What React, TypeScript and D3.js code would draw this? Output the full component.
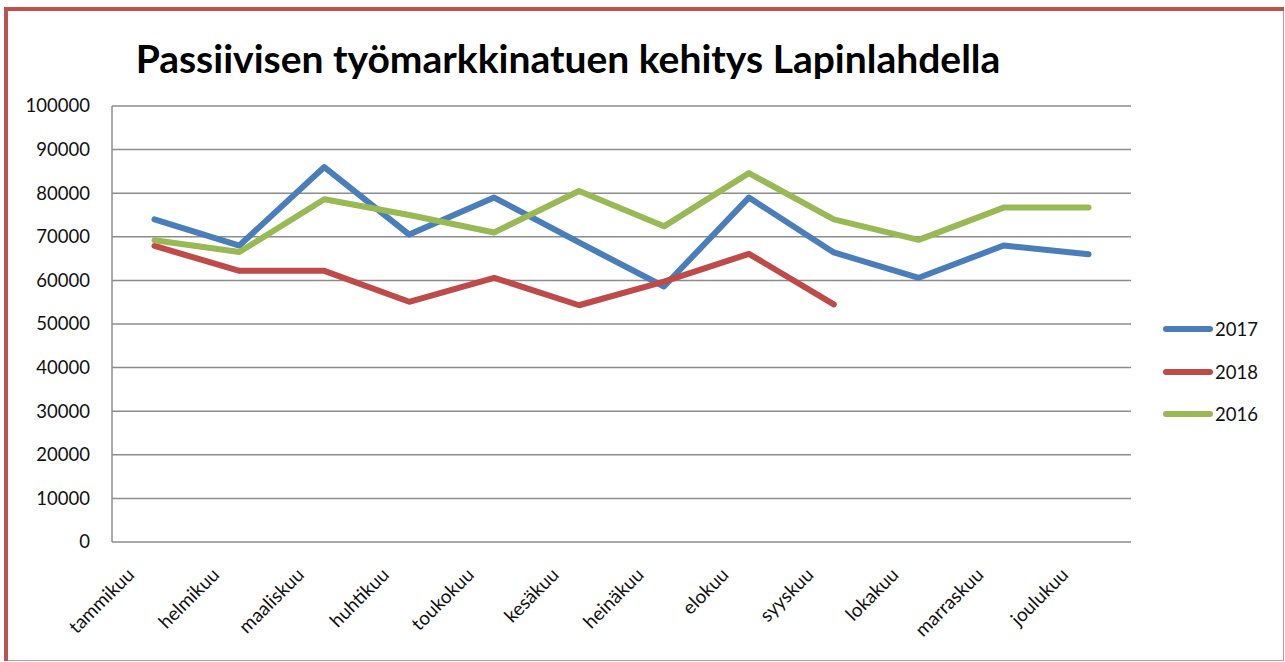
import React, { useEffect, useRef } from "react";
import * as d3 from "d3";

const months = ["tammikuu","helmikuu","maaliskuu","huhtikuu","toukokuu","kesäkuu","heinäkuu","elokuu","syyskuu","lokakuu","marraskuu","joulukuu"];
const values2017 = [74000, 68000, 86000, 70500, 79000, 68700, 58600, 79000, 66400, 60600, 68000, 66000];
const values2018 = [67900, 62200, 62200, 55100, 60600, 54300, 59700, 66100, 54500];
const values2016 = [69200, 66500, 78600, 75000, 71000, 80500, 72400, 84600, 74000, 69300, 76700, 76700];
const yTicks = [0, 10000, 20000, 30000, 40000, 50000, 60000, 70000, 80000, 90000, 100000];
const seriesNames = ["2017", "2018", "2016"];
const seriesColors = ["#4A7EBB", "#BE4B48", "#98B954"];
const title = "Passiivisen työmarkkinatuen kehitys Lapinlahdella";

export default function App() {
  const ref = useRef<SVGSVGElement>(null);
  useEffect(() => {
    const svg = d3.select(ref.current);
    svg.selectAll("*").remove();
    const W = 1285, H = 662;
    const L = 112, R = 1131, T = 106, B = 542;
    const font = "Lato, 'Open Sans', sans-serif";

    svg.append("rect").attr("x", 0).attr("y", 0).attr("width", W).attr("height", H).attr("fill", "#fff");
    // border
    svg.append("rect").attr("x", 6.5).attr("y", 9.5).attr("width", 1277).attr("height", 651)
      .attr("fill", "none").attr("stroke", "#D9908E").attr("stroke-width", 1);
    svg.append("line").attr("x1", 6).attr("x2", 1284).attr("y1", 9).attr("y2", 9).attr("stroke", "#C0504D").attr("stroke-width", 4);
    svg.append("line").attr("x1", 6).attr("x2", 6).attr("y1", 7).attr("y2", 661).attr("stroke", "#C0504D").attr("stroke-width", 4);

    const x = d3.scaleBand<string>().domain(months).range([L, R]);
    const y = d3.scaleLinear().domain([0, 100000]).range([B, T]);
    const cx = (m: string) => (x(m) as number) + x.bandwidth() / 2;

    // title
    svg.append("text").attr("x", 568).attr("y", 73).attr("text-anchor", "middle")
      .attr("font-family", font).attr("font-weight", "bold").attr("font-size", 39)
      .attr("fill", "#000").text(title);

    // gridlines
    svg.append("g").selectAll("line").data(yTicks.filter(t => t > 0)).join("line")
      .attr("x1", L).attr("x2", R).attr("y1", d => y(d)).attr("y2", d => y(d))
      .attr("stroke", "#8C8C8C").attr("stroke-width", 1.5);
    // axes
    svg.append("line").attr("x1", L).attr("x2", R).attr("y1", B).attr("y2", B).attr("stroke", "#8C8C8C").attr("stroke-width", 1.5);
    svg.append("line").attr("x1", L).attr("x2", L).attr("y1", T).attr("y2", B).attr("stroke", "#8C8C8C").attr("stroke-width", 1.5);

    // y labels
    svg.append("g").selectAll("text").data(yTicks).join("text")
      .attr("x", 90).attr("y", d => y(d)).attr("dy", "0.35em").attr("text-anchor", "end")
      .attr("font-family", font).attr("font-size", 18.5).attr("fill", "#111").text(d => String(d));

    // x labels
    svg.append("g").selectAll("text").data(months).join("text")
      .attr("transform", d => `translate(${cx(d) - 19},${B + 34}) rotate(-45)`)
      .attr("text-anchor", "end").attr("font-family", font).attr("font-size", 19).attr("fill", "#111")
      .text(d => d);

    const line = d3.line<number>().x((_, i) => cx(months[i])).y(d => y(d));
    const allSeries = [values2017, values2018, values2016];
    allSeries.forEach((vals, k) => {
      svg.append("path").attr("d", line(vals) as string).attr("fill", "none")
        .attr("stroke", seriesColors[k]).attr("stroke-width", 6)
        .attr("stroke-linejoin", "round").attr("stroke-linecap", "round");
    });

    // legend
    const ly = [329, 372, 414];
    seriesNames.forEach((n, k) => {
      svg.append("line").attr("x1", 1166).attr("x2", 1210).attr("y1", ly[k]).attr("y2", ly[k])
        .attr("stroke", seriesColors[k]).attr("stroke-width", 6).attr("stroke-linecap", "round");
      svg.append("text").attr("x", 1215).attr("y", ly[k]).attr("dy", "0.36em")
        .attr("font-family", font).attr("font-size", 18.5).attr("fill", "#111").text(n);
    });
  }, []);
  return (
    <svg ref={ref} width={1285} height={662} style={{ position: "absolute", left: 0, top: 0 }} />
  );
}
